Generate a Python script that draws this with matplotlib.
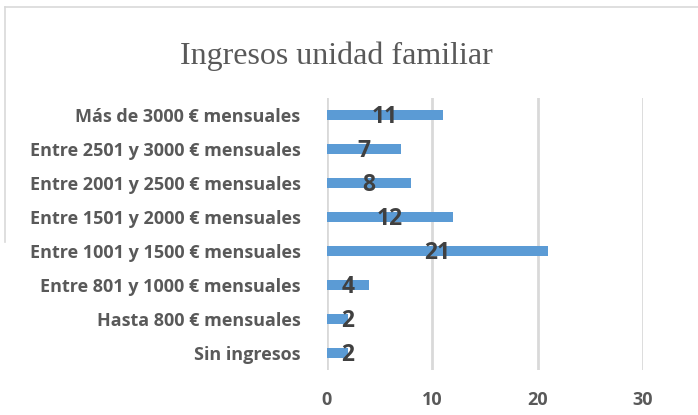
import matplotlib.pyplot as plt
from matplotlib.lines import Line2D

# categorias de abajo hacia arriba
categorias = ['Sin ingresos', 'Hasta 800 € mensuales', 'Entre 801 y 1000 € mensuales',
              'Entre 1001 y 1500 € mensuales', 'Entre 1501 y 2000 € mensuales',
              'Entre 2001 y 2500 € mensuales', 'Entre 2501 y 3000 € mensuales',
              'Más de 3000 € mensuales']
valores = [2, 2, 4, 21, 12, 8, 7, 11]
ticks_x = [0, 10, 20, 30]

W, H = 698, 415
fig = plt.figure(figsize=(W / 100, H / 100), dpi=100)
fuente = 'Open Sans'

# marco del grafico (recortado)
gris_marco = '#d9d9d9'
fig.add_artist(Line2D([5 / W, 1], [1 - 7 / H, 1 - 7 / H], color=gris_marco, lw=1.2))
fig.add_artist(Line2D([5 / W, 5 / W], [1 - 7 / H, 1 - 242 / H], color=gris_marco, lw=1.2))

fig.text(336 / W, 1 - 56 / H, 'Ingresos unidad familiar', ha='center', va='center',
         fontsize=23, color='#595959', family='Liberation Serif')

ax = fig.add_axes([327 / W, 1 - 370 / H, (643 - 327) / W, (370 - 98) / H])
pos = list(range(len(categorias)))
ax.barh(pos, valores, height=0.3, color='#5B9BD5', zorder=3)

for i, v in enumerate(valores):
    ax.text(max(v / 2, 2), i - 0.07, str(v), ha='center', va='center',
            fontsize=16.5, fontweight='bold', color='#404040', family=fuente, zorder=4)

ax.set_xlim(0, 30)
ax.set_ylim(-0.5, len(categorias) - 0.5)
ax.set_xticks(ticks_x)
ax.set_yticks(pos)
ax.set_yticklabels(categorias)
ax.grid(axis='x', color='#d9d9d9', lw=2, zorder=0)
for s in ax.spines.values():
    s.set_visible(False)
ax.tick_params(axis='y', length=0, pad=19, labelsize=13, labelcolor='#595959')
ax.tick_params(axis='x', length=0, pad=15, labelsize=13, labelcolor='#595959')
for lab in ax.get_xticklabels() + ax.get_yticklabels():
    lab.set_fontweight('bold')
    lab.set_family(fuente)

fig.savefig('out.png', dpi=100)
